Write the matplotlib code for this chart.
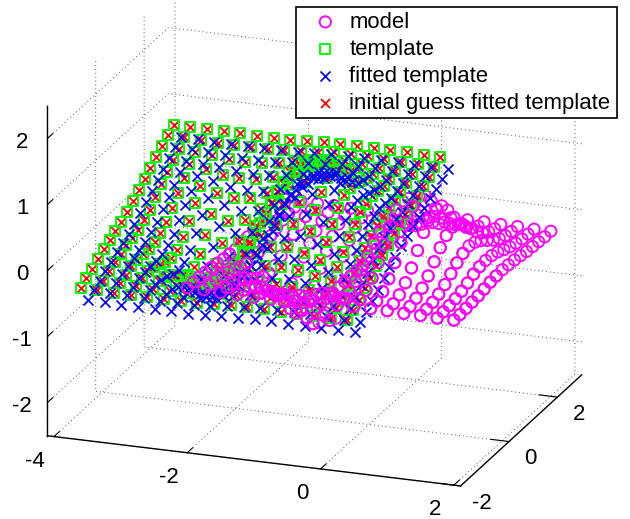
import numpy as np
import matplotlib
matplotlib.use("Agg")
import matplotlib.pyplot as plt
from matplotlib.transforms import ScaledTranslation

# model, on a regular mesh
x_model = [-2, -1.75, -1.5, -1.25, -1, -0.75, -0.5, -0.25, 0, 0.25, 0.5, 0.75, 1, 1.25, 1.5, 1.75, 2]
y_model = [2, 1.75, 1.5, 1.25, 1, 0.75, 0.5, 0.25, 0, -0.25, -0.5, -0.75, -1, -1.25, -1.5, -1.75, -2]
z_model = [
    [0, 0, -.01, -.01, -.02, -.02, -.02, -.01, 0, .01, .02, .02, .02, .01, .01, 0, 0],
    [0, -.01, -.02, -.03, -.04, -.05, -.04, -.03, 0, .03, .04, .05, .04, .03, .02, .01, 0],
    [-.01, -.02, -.04, -.07, -.09, -.11, -.10, -.06, 0, .06, .10, .11, .09, .07, .04, .02, .01],
    [-.02, -.04, -.08, -.14, -.19, -.22, -.20, -.12, 0, .12, .20, .22, .19, .14, .08, .04, .02],
    [-.03, -.07, -.14, -.24, -.33, -.38, -.35, -.21, 0, .21, .35, .38, .33, .24, .14, .07, .03],
    [-.05, -.11, -.22, -.37, -.51, -.60, -.54, -.33, 0, .33, .54, .60, .51, .37, .22, .11, .05],
    [-.07, -.16, -.30, -.50, -.70, -.81, -.74, -.45, 0, .45, .74, .81, .70, .50, .30, .16, .07],
    [-.08, -.19, -.36, -.60, -.85, -.98, -.90, -.54, 0, .54, .90, .98, .85, .60, .36, .19, .08],
    [-.09, -.20, -.39, -.64, -.90, -1.05, -.95, -.58, 0, .58, .95, 1.05, .90, .64, .39, .20, .09],
    [-.08, -.19, -.36, -.60, -.85, -.98, -.90, -.54, 0, .54, .90, .98, .85, .60, .36, .19, .08],
    [-.07, -.16, -.30, -.50, -.70, -.81, -.74, -.45, 0, .45, .74, .81, .70, .50, .30, .16, .07],
    [-.05, -.11, -.22, -.37, -.51, -.60, -.54, -.33, 0, .33, .54, .60, .51, .37, .22, .11, .05],
    [-.03, -.07, -.14, -.24, -.33, -.38, -.35, -.21, 0, .21, .35, .38, .33, .24, .14, .07, .03],
    [-.02, -.04, -.08, -.14, -.19, -.22, -.20, -.12, 0, .12, .20, .22, .19, .14, .08, .04, .02],
    [-.01, -.02, -.04, -.07, -.09, -.11, -.10, -.06, 0, .06, .10, .11, .09, .07, .04, .02, .01],
    [0, -.01, -.02, -.03, -.04, -.05, -.04, -.03, 0, .03, .04, .05, .04, .03, .02, .01, 0],
    [0, 0, -.01, -.01, -.02, -.02, -.02, -.01, 0, .01, .02, .02, .02, .01, .01, 0, 0],
]

# template, red crosses sit on the same points
x_template = [-3.6, -3.35, -3.1, -2.85, -2.6, -2.35, -2.1, -1.85, -1.6, -1.35, -1.1, -0.85, -0.6, -0.35, -0.1, 0.15, 0.4]
y_template = [1.84, 1.6, 1.36, 1.12, 0.88, 0.64, 0.4, 0.16, -0.08, -0.32, -0.56, -0.8, -1.04, -1.28, -1.52, -1.76, -2]
z_template = [
    [.98, .98, .97, .97, .97, .96, .96, .97, .98, .99, 1.00, 1.00, .99, .99, .99, .98, .98],
    [.91, .90, .89, .88, .87, .87, .87, .89, .91, .93, .95, .95, .95, .94, .93, .92, .91],
    [.82, .81, .79, .77, .75, .73, .74, .78, .83, .88, .92, .93, .91, .89, .87, .85, .84],
    [.74, .72, .69, .64, .59, .57, .58, .65, .76, .87, .94, .95, .93, .88, .83, .80, .78],
    [.65, .61, .55, .47, .39, .34, .37, .49, .68, .87, .99, 1.02, .97, .89, .81, .75, .71],
    [.56, .51, .41, .29, .16, .08, .13, .32, .61, .90, 1.09, 1.14, 1.06, .93, .81, .71, .66],
    [.48, .40, .27, .10, -.08, -.18, -.12, .14, .54, .94, 1.20, 1.26, 1.16, .98, .81, .68, .60],
    [.39, .29, .14, -.07, -.29, -.41, -.33, -.02, .46, .94, 1.25, 1.33, 1.21, .99, .78, .63, .53],
    [.31, .21, .05, -.18, -.41, -.54, -.45, -.12, .39, .90, 1.23, 1.32, 1.19, .96, .73, .57, .47],
    [.24, .14, -.01, -.22, -.44, -.56, -.48, -.17, .31, .79, 1.10, 1.18, 1.06, .84, .63, .48, .38],
    [.18, .10, -.03, -.20, -.38, -.48, -.42, -.16, .24, .64, .90, .96, .86, .68, .51, .38, .30],
    [.12, .07, -.03, -.15, -.28, -.36, -.31, -.12, .17, .46, .65, .70, .62, .49, .37, .27, .22],
    [.06, .02, -.04, -.12, -.20, -.25, -.22, -.10, .09, .28, .40, .43, .38, .30, .22, .16, .12],
    [0, -.02, -.05, -.10, -.15, -.17, -.16, -.09, .02, .13, .20, .21, .19, .14, .09, .06, .04],
    [-.07, -.08, -.10, -.12, -.14, -.16, -.15, -.11, -.06, -.01, .03, .04, .02, 0, -.02, -.04, -.05],
    [-.13, -.14, -.15, -.16, -.17, -.17, -.17, -.15, -.13, -.11, -.09, -.09, -.09, -.10, -.11, -.12, -.13],
    [-.20, -.20, -.21, -.21, -.21, -.22, -.22, -.21, -.20, -.19, -.18, -.18, -.19, -.19, -.19, -.20, -.20],
]

# fitted template
x_fitted = [-3.49, -3.24, -2.99, -2.74, -2.49, -2.24, -1.99, -1.74, -1.49, -1.24, -0.99, -0.74, -0.49, -0.24, 0.01, 0.26, 0.51]
y_fitted = [1.84, 1.6, 1.36, 1.12, 0.88, 0.64, 0.4, 0.16, -0.08, -0.32, -0.56, -0.8, -1.04, -1.28, -1.52, -1.76, -2]
z_fitted = [
    [.81, .81, .80, .80, .80, .79, .79, .80, .81, .82, .83, .83, .82, .82, .82, .81, .81],
    [.74, .73, .72, .71, .70, .70, .70, .72, .74, .76, .78, .78, .78, .77, .76, .75, .74],
    [.65, .64, .62, .60, .58, .56, .57, .61, .66, .71, .75, .76, .74, .72, .70, .68, .67],
    [.57, .55, .52, .47, .42, .40, .41, .48, .59, .70, .77, .78, .76, .71, .66, .63, .61],
    [.48, .44, .38, .30, .22, .17, .20, .32, .51, .70, .82, .85, .80, .72, .64, .58, .54],
    [.39, .34, .24, .12, -.01, -.09, -.04, .15, .44, .73, .92, .97, .89, .76, .64, .54, .49],
    [.31, .23, .10, -.07, -.25, -.35, -.29, -.03, .37, .77, 1.03, 1.09, .99, .81, .64, .51, .43],
    [.22, .12, -.03, -.24, -.46, -.58, -.50, -.19, .29, .77, 1.08, 1.16, 1.04, .82, .61, .46, .36],
    [.14, .04, -.12, -.35, -.58, -.71, -.62, -.29, .22, .73, 1.06, 1.15, 1.02, .79, .56, .40, .30],
    [.07, -.03, -.18, -.39, -.61, -.73, -.65, -.34, .14, .62, .93, 1.01, .89, .67, .46, .31, .21],
    [.01, -.07, -.20, -.37, -.55, -.65, -.59, -.33, .07, .47, .73, .79, .69, .51, .34, .21, .13],
    [-.05, -.10, -.20, -.32, -.45, -.53, -.48, -.29, 0, .29, .48, .53, .45, .32, .20, .10, .05],
    [-.11, -.15, -.21, -.29, -.37, -.42, -.39, -.27, -.08, .11, .23, .26, .21, .13, .05, -.01, -.05],
    [-.17, -.19, -.22, -.27, -.32, -.34, -.33, -.26, -.15, -.04, .03, .04, .02, -.03, -.08, -.11, -.13],
    [-.24, -.25, -.27, -.29, -.31, -.33, -.32, -.28, -.23, -.18, -.14, -.13, -.15, -.17, -.19, -.21, -.22],
    [-.30, -.31, -.32, -.33, -.34, -.34, -.34, -.32, -.30, -.28, -.26, -.26, -.26, -.27, -.28, -.29, -.30],
    [-.37, -.37, -.38, -.38, -.38, -.39, -.39, -.38, -.37, -.36, -.35, -.35, -.36, -.36, -.36, -.37, -.37],
]

legend_labels = ["model", "template", "fitted template", "initial guess fitted template"]
x_ticks = [-4, -2, 0, 2]
y_ticks = [-2, 0, 2]
z_ticks = [-2, -1, 0, 1, 2]

plt.rcParams["font.family"] = ["Liberation Sans", "DejaVu Sans"]
plt.rcParams["axes.unicode_minus"] = False

fig = plt.figure(figsize=(6.3, 5.19), dpi=100)
ax = fig.add_axes([57.7 / 630, 22 / 519, 500 / 630, 500 / 519], projection="3d", proj_type="ortho")
ax.computed_zorder = False
ax.view_init(elev=19.5, azim=-70)
ax.set_box_aspect((439.5, 353.8, 350), zoom=1.29)
ax.set_xlim(-4.1, 2.1, view_margin=0)
ax.set_ylim(-2, 3, view_margin=0)
ax.set_zlim(-2.5, 2.5, view_margin=0)
ax.patch.set_alpha(0)


def flat(xs, ys, zs):
    X, Y = np.meshgrid(xs, ys)
    return X.ravel(), Y.ravel(), np.array(zs).ravel()


xm, ym, zm = flat(x_model, y_model, z_model)
xm_front, ym_front, zm_front = flat(x_model, y_model[9:], z_model[9:])
xt, yt, zt = flat(x_template, y_template, z_template)
xf, yf, zf = flat(x_fitted, y_fitted, z_fitted)

circle = dict(s=66, facecolors="none", edgecolors="#ff00ff", linewidths=1.35, marker="o", depthshade=False)
h1 = ax.scatter(xm, ym, zm, zorder=2, label=legend_labels[0], **circle)
h4 = ax.scatter(xt, yt, zt, s=42, c="#ff0000", linewidths=1.3, marker="x",
                depthshade=False, zorder=3, label=legend_labels[3])
h2 = ax.scatter(xt, yt, zt, s=52, facecolors="none", edgecolors="#00ff00", linewidths=1.4, marker="s",
                depthshade=False, zorder=4, label=legend_labels[1])
h3 = ax.scatter(xf, yf, zf, s=52, c="#0000ff", linewidths=1.25, marker="x",
                depthshade=False, zorder=5, label=legend_labels[2])
# near rows of the model lie in front of the template
ax.scatter(xm_front, ym_front, zm_front, zorder=6, **circle)

ax.set_xticks(x_ticks)
ax.set_yticks(y_ticks)
ax.set_zticks(z_ticks)
ax.tick_params(labelsize=16, pad=4)
ax.zaxis.set_ticks_position("lower")

for axis in [ax.xaxis, ax.yaxis, ax.zaxis]:
    axis.pane.set_visible(False)
    axis.line.set_color("black")
    axis.line.set_linewidth(1.0)
    axis._axinfo["grid"].update(color="#555555", linewidth=0.7, linestyle=(0, (1, 3)))
    axis._axinfo["tick"].update(inward_factor=0.0, outward_factor=0.55, linewidth={True: 0.8, False: 0.8})

# mplot3d puts the tick labels too far out, move them by hand (pixels)
# it also resets the label transform on every draw, so block that
for axis, dx, dy in [(ax.xaxis, -11, -3.5), (ax.yaxis, -5, -7), (ax.zaxis, 9, 0)]:
    for tick in axis.get_major_ticks():
        t = tick.label1
        t.set_va("center")
        t.set_transform(ax.transData + ScaledTranslation(dx / 100, -dy / 100, fig.dpi_scale_trans))
        t.set_transform = lambda tr: None

leg = ax.legend(handles=[h1, h2, h3, h4], loc="upper left",
                bbox_to_anchor=(296 / 630, 1 - 118 / 519, 321 / 630, 111 / 519),
                bbox_transform=fig.transFigure, mode="expand", fontsize=15.9, fancybox=False, framealpha=1,
                edgecolor="black", borderaxespad=0, borderpad=0.213, labelspacing=0.27,
                handletextpad=-0.03, handlelength=2.23)
leg.get_frame().set_linewidth(1.2)

fig.savefig("out.png", dpi=100)
